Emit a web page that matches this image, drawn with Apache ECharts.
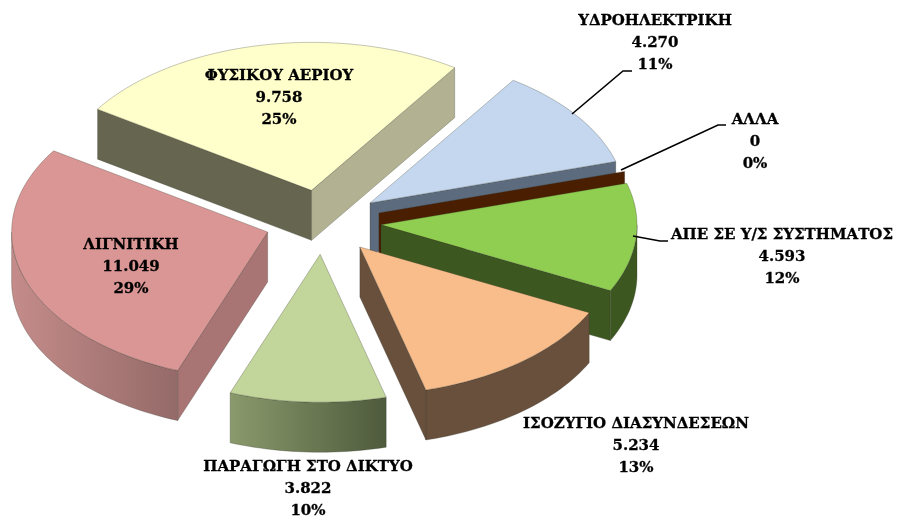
<!DOCTYPE html>
<html>
<head>
<meta charset="utf-8">
<style>
  html, body { margin: 0; padding: 0; background: #fff; }
  #chart { width: 898px; height: 517px; }
</style>
<script src="https://cdn.jsdelivr.net/npm/echarts@6/dist/echarts.min.js"></script>
</head>
<body>
<div id="chart"></div>
<script>
// clockwise, starting from the cut between gas and hydro
const categories = ["ΥΔΡΟΗΛΕΚΤΡΙΚΗ", "ΑΛΛΑ", "ΑΠΕ ΣΕ Υ/Σ ΣΥΣΤΗΜΑΤΟΣ", "ΙΣΟΖΥΓΙΟ ΔΙΑΣΥΝΔΕΣΕΩΝ", "ΠΑΡΑΓΩΓΗ ΣΤΟ ΔΙΚΤΥΟ", "ΛΙΓΝΙΤΙΚΗ", "ΦΥΣΙΚΟΥ ΑΕΡΙΟΥ"]
const values = [4270, 0, 4593, 5234, 3822, 11049, 9758]
const percents = [11, 0, 12, 13, 10, 29, 25]

const topColors = ["#c4d7ee", "#4a1e00", "#8fce50", "#f9bd8b", "#c2d59b", "#d99694", "#ffffcc"]
const startWalls = ["#5c6b7d", "#4a1e00", "#3c5820", "#68503c", "#68503c", "#a87474", "#666650"]
const endWalls = ["#5c6b7d", "#4a1e00", "#3c5820", "#68503c", "#68503c", "#a87474", "#b2b293"]
const rimWalls = [
  ["#5c6b7d", "#5c6b7d"],
  ["#4a1e00", "#4a1e00"],
  ["#3c5820", "#3c5820"],
  ["#68503c", "#68503c"],
  ["#8a9a6c", "#4e5a3c"],
  ["#c48c8a", "#946a68"],
  ["#666650", "#666650"],
]

// label centre x / first line y, and leader line points
const labelPos = [[655, 21], [755, 120], [782, 235], [636, 424], [308, 467], [131, 245], [279, 76]]
const leaders = {
  0: [[572, 114], [623, 71], [632, 71]],
  1: [[621, 170], [718, 125], [726, 125]],
  2: [[633, 236], [660, 241], [668, 241]],
}

const startAngle = 34
const cx = 323
const cy = 222
const rx = 256
const ry = 148
const depth = 50
const explodeX = 0.2275
const explodeY = 0.218
const lineH = 22.3

const total = values.reduce((a, b) => a + b, 0)
const rad = (d) => (d * Math.PI) / 180

const sliceAngles = (i) => {
  let a = startAngle
  for (let k = 0; k < i; k += 1) a += (values[k] / total) * 360
  return [a, a + (values[i] / total) * 360]
}

const fmt = (v) => String(v).replace(/\B(?=(\d{3})+$)/g, ".")

const renderSlice = (params, api) => {
  const i = api.value(1)
  const [a0, a1] = sliceAngles(i)
  const mid = (a0 + a1) / 2
  const ox = cx + explodeX * rx * Math.sin(rad(mid))
  const oy = cy - explodeY * ry * Math.cos(rad(mid))
  const pt = (a, d = 0) => [ox + rx * Math.sin(rad(a)), oy - ry * Math.cos(rad(a)) + d]

  const children = []
  const edge = { stroke: "rgba(50,50,40,0.4)", lineWidth: 0.7 }
  const poly = (points, fill) => {
    children.push({ type: "polygon", shape: { points }, style: { fill, ...edge } })
  }
  const wall = (a, fill) => {
    poly([[ox, oy], pt(a), pt(a, depth), [ox, oy + depth]], fill)
  }

  if (Math.sin(rad(a0)) < 0) wall(a0, startWalls[i])
  if (Math.sin(rad(a1)) > 0) wall(a1, endWalls[i])

  // outer wall, only the part facing the viewer
  const from = Math.max(a0, 90)
  const to = Math.min(a1, 270)
  if (to > from) {
    const up = []
    const down = []
    for (let a = from; a <= to; a += 1.5) {
      up.push(pt(a))
      down.unshift(pt(a, depth))
    }
    up.push(pt(to))
    down.unshift(pt(to, depth))
    const grad = new echarts.graphic.LinearGradient(0, 0, 1, 0, [
      { offset: 0, color: rimWalls[i][0] },
      { offset: 1, color: rimWalls[i][1] },
    ])
    poly(up.concat(down), grad)
  }

  if (a1 > a0) {
    const face = [[ox, oy]]
    for (let a = a0; a < a1; a += 1.5) face.push(pt(a))
    face.push(pt(a1))
    poly(face, topColors[i])
  }

  return { type: "group", children }
}

const renderLabel = (params, api) => {
  const i = api.value(1)
  const children = []
  const lines = [categories[i], fmt(api.value(0)), percents[i] + "%"]
  lines.forEach((t, k) => {
    children.push({
      type: "text",
      style: {
        text: t,
        x: labelPos[i][0],
        y: labelPos[i][1] + k * lineH,
        align: "center",
        verticalAlign: "middle",
        fill: "#000",
        stroke: "#000",
        lineWidth: 0.3,
        font: "bold 15px 'DejaVu Serif'",
      },
    })
  })
  if (leaders[i]) {
    children.push({
      type: "polyline",
      shape: { points: leaders[i] },
      style: { stroke: "#000", lineWidth: 1.6, fill: null },
    })
  }
  return { type: "group", children }
}

// back to front
const drawOrder = values
  .map((v, i) => i)
  .sort((p, q) => {
    const m = (i) => {
      const [a, b] = sliceAngles(i)
      return -Math.cos(rad((a + b) / 2))
    }
    return m(p) - m(q)
  })

const chart = echarts.init(document.getElementById("chart"), null, { renderer: "canvas" })
chart.setOption({
  backgroundColor: "#fff",
  animation: false,
  series: [
    {
      type: "custom",
      coordinateSystem: "none",
      renderItem: renderSlice,
      silent: true,
      z: 1,
      data: drawOrder.map((i) => [values[i], i]),
    },
    {
      type: "custom",
      coordinateSystem: "none",
      renderItem: renderLabel,
      silent: true,
      z: 2,
      data: values.map((v, i) => [v, i]),
    },
  ],
})
</script>
</body>
</html>
